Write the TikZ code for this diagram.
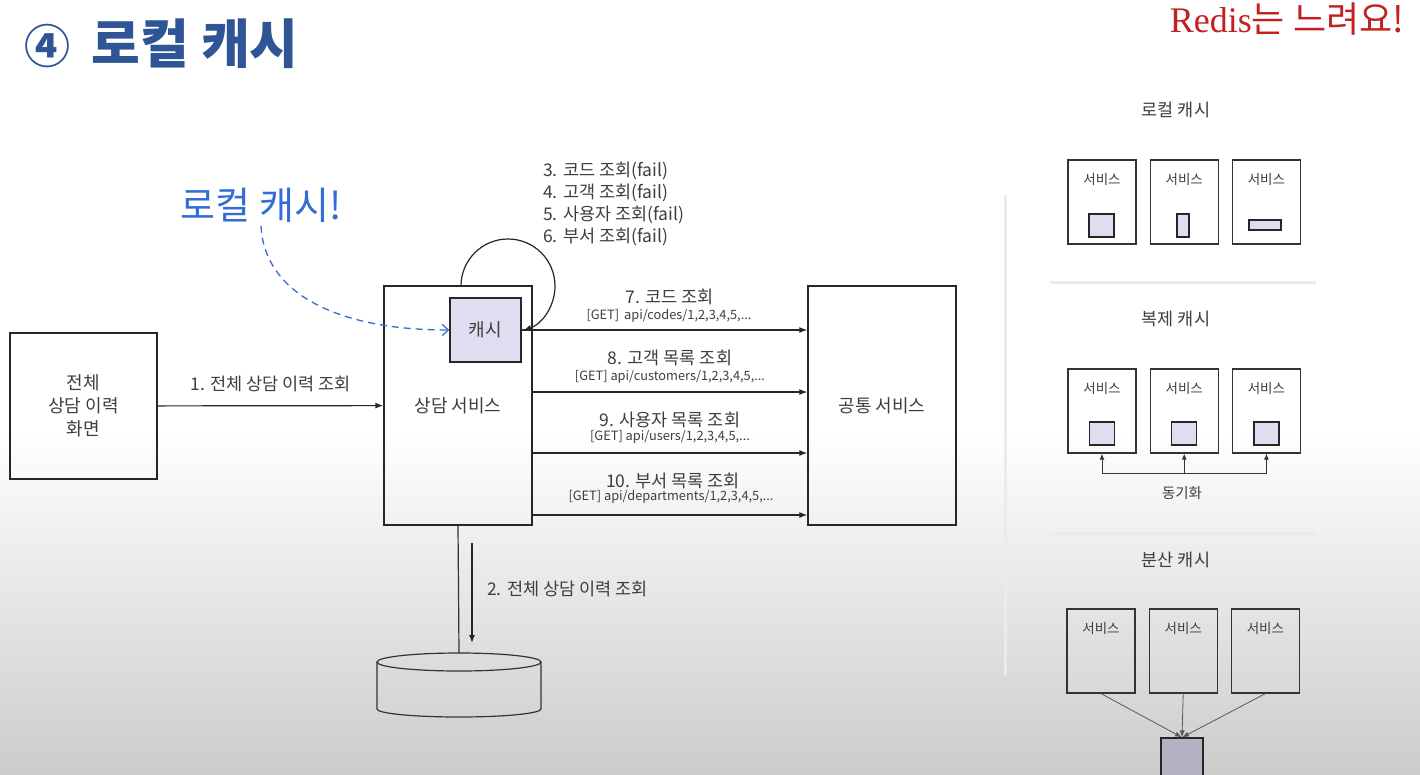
\documentclass[tikz,border=0pt]{standalone}
\usepackage{fontspec}
\setmainfont{Noto Sans CJK KR}
\newfontfamily\redisfont{Liberation Serif}
\usepackage{tikz}
\usetikzlibrary{arrows.meta, positioning}
\definecolor{titleblue}{RGB}{47,85,151}
\definecolor{noteblue}{RGB}{52,108,214}
\definecolor{redisred}{RGB}{196,32,32}
\definecolor{cachefill}{RGB}{222,222,240}
\definecolor{distfill}{RGB}{178,178,194}
\definecolor{txt}{RGB}{62,62,62}
\tikzset{
  blk/.style={
    rectangle, draw=black!85, line width=1.4pt, text=txt, align=center,
    inner sep=0pt, font=\fontsize{18}{23}\selectfont
  },
  cblk/.style={blk, fill=cachefill, minimum width=71pt, minimum height=64pt},
  svcblk/.style={
    rectangle, draw=black!80, line width=1.2pt, inner sep=0pt,
    minimum width=68pt, minimum height=84pt, label={[svclbl]north:서비스}
  },
  svclbl/.style={anchor=north, yshift=-10pt, text=txt, font=\fontsize{13.5}{15}\selectfont},
  mini/.style={rectangle, draw=black!85, line width=1.2pt, fill=cachefill, inner sep=0pt},
  lbl/.style={text=txt, inner sep=0pt, font=\fontsize{17.5}{22}\selectfont},
  sublbl/.style={text=txt, inner sep=0pt, font=\fontsize{12.8}{15}\selectfont},
  arr/.style={-{Latex[length=8pt,width=6pt]}, line width=1.2pt, draw=black!85},
  sarr/.style={-{Latex[length=6pt,width=5pt]}, line width=1pt, draw=black!80},
  garr/.style={-{Latex[length=7pt,width=5pt]}, line width=0.8pt, draw=black!65},
  dasharr/.style={
    -{Straight Barb[length=6pt,width=11pt]}, line width=1.3pt,
    draw=noteblue, dash pattern=on 7pt off 5pt
  },
  sepline/.style={line width=3pt, draw=black!8}
}

\begin{document}
\begin{tikzpicture}[x=1pt, y=-1pt]

% background
\useasboundingbox (0,0) rectangle (1420,774);
\fill[white] (0,0) rectangle (1420,774);
\shade[top color=white, bottom color=black!20] (0,430) rectangle (1420,774);

% headings
\node[text=titleblue, font=\fontsize{46}{50}\selectfont\bfseries] (num) at (47,46) {④};
\node[anchor=west, text=titleblue, font=\fontsize{53}{56}\selectfont\bfseries] (title) at (88,44) {로컬 캐시};
\node[text=redisred, font=\fontsize{36}{40}\selectfont] (redis) at (1287,19) {{\redisfont Redis}는 느려요!};
\node[text=noteblue, font=\fontsize{38}{42}\selectfont] (note) at (261,205) {로컬 캐시!};

% Left — request flow
\node[blk, minimum width=147pt, minimum height=146pt] (screen) at (83.5,406) {전체\\상담 이력\\화면};
\node[blk, minimum width=148pt, minimum height=239pt] (svc) at (458,405.5) {상담 서비스};
\node[cblk] (cache) at (485.5,330) {캐시};
\node[blk, minimum width=148pt, minimum height=239pt] (common) at (882,405.5) {공통 서비스};

\draw[arr] (screen) -- node[lbl, above=13pt] {1. 전체 상담 이력 조회} (svc);

% self lookup on the cache
\coordinate (loopa) at (461,286);
\draw[arr] (loopa) arc[start angle=180, end angle=-71, radius=47pt];
\node[lbl, anchor=north west, align=left] (fails) at (543,162)
  {3. 코드 조회(fail)\\4. 고객 조회(fail)\\5. 사용자 조회(fail)\\6. 부서 조회(fail)};

% Calls to the common service
\draw[arr] (cache.east) -- (cache.east -| common.west);
\draw[arr] (svc.east |- 0,392) -- (common.west |- 0,392);
\draw[arr] (svc.east |- 0,453) -- (common.west |- 0,453);
\draw[arr] (svc.east |- 0,515) -- (common.west |- 0,515);

\node[lbl] (q7)  at (670,297) {7. 코드 조회};
\node[sublbl] (g7)  at (669,316) {[GET]\, api/codes/1,2,3,4,5,...};
\node[lbl] (q8)  at (670,358) {8. 고객 목록 조회};
\node[sublbl] (g8)  at (670,377) {[GET] api/customers/1,2,3,4,5,...};
\node[lbl] (q9)  at (670,420) {9. 사용자 목록 조회};
\node[sublbl] (g9)  at (670,437) {[GET] api/users/1,2,3,4,5,...};
\node[lbl] (q10) at (673,481) {10. 부서 목록 조회};
\node[sublbl] (g10) at (671,497) {[GET] api/departments/1,2,3,4,5,...};

% Database
\coordinate (db) at (459,653);
\draw[line width=1.2pt, draw=black!80] (377,662) -- (377,709)
  arc[start angle=180, end angle=360, x radius=82pt, y radius=8pt] -- (541,662);
\draw[line width=1.2pt, draw=black!80] (459,662) ellipse [x radius=82pt, y radius=9pt];
\draw[line width=1.2pt, draw=black!80] (svc.south) -- (db);
\coordinate (q2a) at (472,543);
\coordinate (q2b) at (472,643);
\draw[arr] (q2a) -- (q2b);
\node[lbl, anchor=west] (q2) at (487,589) {2. 전체 상담 이력 조회};

% note arrow
\draw[dasharr] (note.south) .. controls (264,292) and (335,330) .. (cache.west);

% separators
\draw[sepline] (1005,195) -- (1005,675);
\draw[sepline] (1050,282) -- (1316,282);
\draw[sepline] (1050,533) -- (1316,533);

% Right 1 — local cache
\node[lbl] (loc) at (1176,110) {로컬 캐시};
\node[svcblk] (l1) at (1102,202) {};
\node[svcblk, right=13pt of l1] (l2) {};
\node[svcblk, right=13pt of l2] (l3) {};
\node[mini, minimum width=25pt, minimum height=23pt] (l1c) at (1101.5,225.5) {};
\node[mini, minimum width=12pt, minimum height=23pt] (l2c) at (1183,225.5) {};
\node[mini, minimum width=32pt, minimum height=10pt] (l3c) at (1265,225) {};

% Right 2 — replicated cache
\node[lbl] (rep) at (1176,319) {복제 캐시};
\node[svcblk] (r1) at (1102,411) {};
\node[svcblk, right=13pt of r1] (r2) {};
\node[svcblk, right=13pt of r2] (r3) {};
\node[mini, minimum width=25pt, minimum height=23pt] (r1c) at (r1 |- 0,433.5) {};
\node[mini, minimum width=25pt, minimum height=23pt] (r2c) at (r2 |- 0,433.5) {};
\node[mini, minimum width=25pt, minimum height=23pt] (r3c) at (r3 |- 0,433.5) {};
\coordinate (sync) at (r2 |- 0,473);
\draw[sarr] (sync) -| (r1.south);
\draw[sarr] (sync) -- (r2.south);
\draw[sarr] (sync) -| (r3.south);
\node[lbl, font=\fontsize{14.5}{16}\selectfont] (synclbl) at (1182,493) {동기화};

% Right 3 — distributed cache
\node[lbl] (dist) at (1176,560) {분산 캐시};
\node[svcblk] (d1) at (1101,651) {};
\node[svcblk, right=13pt of d1] (d2) {};
\node[svcblk, right=13pt of d2] (d3) {};
\node[rectangle, draw=black!85, line width=1.2pt, fill=distfill, minimum width=42pt, minimum height=46pt] (dcache) at (1182,761) {};
\draw[garr] (d1.south) -- (dcache.north);
\draw[garr] (d2.south) -- (dcache.north);
\draw[garr] (d3.south) -- (dcache.north);

\end{tikzpicture}
\end{document}
